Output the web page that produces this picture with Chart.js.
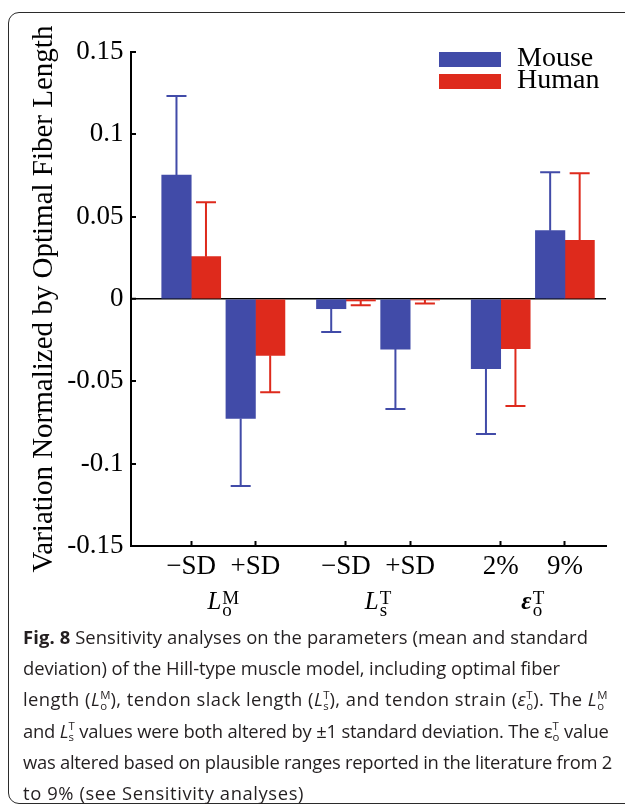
<!DOCTYPE html>
<html>
<head>
<meta charset="utf-8">
<script src="https://cdn.jsdelivr.net/npm/chart.js@4.4.1/dist/chart.umd.min.js"></script>
<style>
  html, body { margin: 0; padding: 0; background: #fff; }
  body { width: 625px; height: 807px; position: relative; overflow: hidden; }
  #wrap { position: absolute; left: 0; top: 0; width: 625px; height: 625px; }
  #frame { position: absolute; left: 8px; top: 12px; width: 700px; height: 790px;
           border: 1.5px solid #2b2b2b; border-radius: 11px; pointer-events: none; }
  #caption { position: absolute; left: 23px; top: 621px; font-family: "Open Sans", sans-serif;
             font-size: 18.4px; line-height: 31.2px; color: #231f20; }
  #caption div { white-space: nowrap; display: table; }
  .ss { display: inline-block; vertical-align: -0.32em; line-height: 0.95; font-size: 0.62em; text-align: left; letter-spacing: 0; }
  .ss span { display: block; }
  i { font-style: italic; }
</style>
</head>
<body>
<div id="wrap"><canvas id="c" width="625" height="625"></canvas></div>
<div id="frame"></div>
<div id="caption">
  <div data-w="565"><b>Fig. 8</b> Sensitivity analyses on the parameters (mean and standard</div>
  <div data-w="537">deviation) of the Hill-type muscle model, including optimal fiber</div>
  <div data-w="588">length (<i>L</i><span class="ss"><span>M</span><span>o</span></span>), tendon slack length (<i>L</i><span class="ss"><span>T</span><span>s</span></span>), and tendon strain (<i>ε</i><span class="ss"><span>T</span><span>o</span></span>). The <i>L</i><span class="ss"><span>M</span><span>o</span></span></div>
  <div data-w="585">and <i>L</i><span class="ss"><span>T</span><span>s</span></span> values were both altered by ±1 standard deviation. The ε<span class="ss"><span>T</span><span>o</span></span> value</div>
  <div data-w="589">was altered based on plausible ranges reported in the literature from 2</div>
  <div data-w="281">to 9% (see Sensitivity analyses)</div>
</div>
<script>
// ---- data ----
const levelLabels = ['\u2212SD', '+SD', '\u2212SD', '+SD', '2%', '9%'];
const groupMain = ['L', 'L', '\u03B5'];
const groupSup  = ['M', 'T', 'T'];
const groupSub  = ['o', 's', 'o'];
const mouseValues = [0.0752, -0.0725, -0.0059, -0.0304, -0.0423, 0.0415];
const mouseSD     = [0.0481,  0.0411,  0.0141,  0.0364,  0.0397, 0.0354];
const humanValues = [0.0257, -0.0342, -0.0012, -0.0006, -0.0302, 0.0356];
const humanSD     = [0.0330,  0.0225,  0.0026,  0.0022,  0.0348, 0.0407];
const yTickValues = [-0.15, -0.1, -0.05, 0, 0.05, 0.1, 0.15];
const yTickLabels = ['-0.15', '-0.1', '-0.05', '0', '0.05', '0.1', '0.15'];
const seriesNames = ['Mouse', 'Human'];

// fit caption lines to the reference line lengths
document.querySelectorAll('#caption > div').forEach(d => {
  const target = parseFloat(d.dataset.w);
  const n = d.textContent.length;
  const natural = d.getBoundingClientRect().width;
  d.style.letterSpacing = ((target - natural) / n).toFixed(3) + 'px';
});

// ---- layout helpers ----
const GROUP_STEP = 2.41, LEVEL_STEP = 1;
const xPos = i => Math.floor(i / 2) * GROUP_STEP + (i % 2) * LEVEL_STEP;
const BLUE = 'rgb(65,75,168)', RED = 'rgb(222,42,28)';
const SERIF = '"Liberation Serif", "Times New Roman", serif';

const errorBars = {
  id: 'errorBars',
  afterDatasetsDraw(chart) {
    const ctx = chart.ctx, ys = chart.scales.y;
    chart.data.datasets.forEach((ds, di) => {
      const meta = chart.getDatasetMeta(di);
      meta.data.forEach((bar, i) => {
        const v = ds.values[i], sd = ds.sd[i];
        const tip = v >= 0 ? v + sd : v - sd;
        const y0 = ys.getPixelForValue(v), y1 = ys.getPixelForValue(tip);
        ctx.save();
        ctx.strokeStyle = ds.backgroundColor;
        ctx.lineWidth = 2;
        ctx.beginPath();
        ctx.moveTo(bar.x, y0); ctx.lineTo(bar.x, y1);
        ctx.moveTo(bar.x - 10, y1); ctx.lineTo(bar.x + 10, y1);
        ctx.stroke();
        ctx.restore();
      });
    });
  }
};

const legendBox = {
  id: 'legendBox',
  afterDraw(chart) {
    const ctx = chart.ctx;
    ctx.save();
    chart.data.datasets.forEach((ds, i) => {
      const top = 52 + i * 22;
      ctx.fillStyle = ds.backgroundColor;
      ctx.fillRect(439, top, 62, 15);
      ctx.fillStyle = '#000';
      ctx.font = '28px ' + SERIF;
      ctx.textBaseline = 'alphabetic';
      ctx.textAlign = 'left';
      ctx.fillText(ds.label, 517, top + 14);
    });
    ctx.restore();
  }
};

const groupLabels = {
  id: 'groupLabels',
  afterDraw(chart) {
    const ctx = chart.ctx, xs = chart.scales.x;
    ctx.save();
    ctx.fillStyle = '#000';
    ctx.textBaseline = 'alphabetic';
    ctx.textAlign = 'left';
    groupMain.forEach((m, g) => {
      const cx = (xs.getPixelForValue(xPos(2 * g)) + xs.getPixelForValue(xPos(2 * g + 1))) / 2;
      const mainFont = (g === 2 ? 'italic bold 25px ' : 'italic 25px ') + SERIF;
      ctx.font = mainFont;
      const mw = ctx.measureText(m).width;
      ctx.font = '19px ' + SERIF;
      const sw = Math.max(ctx.measureText(groupSup[g]).width, ctx.measureText(groupSub[g]).width);
      const total = mw + 1 + sw;
      const x0 = cx - total / 2;
      ctx.font = mainFont;
      ctx.fillText(m, x0, 609);
      ctx.font = '19px ' + SERIF;
      ctx.fillText(groupSup[g], x0 + mw + 1, 604);
      ctx.fillText(groupSub[g], x0 + mw + 1, 616);
    });
    ctx.restore();
  }
};

const makeDs = (label, vals, sd, color) => ({
  label, values: vals, sd,
  data: vals.map((v, i) => ({ x: xPos(i), y: v })),
  backgroundColor: color,
  borderWidth: 0,
  barThickness: 29.5
});

new Chart(document.getElementById('c'), {
  type: 'bar',
  data: {
    datasets: [
      makeDs(seriesNames[0], mouseValues, mouseSD, BLUE),
      makeDs(seriesNames[1], humanValues, humanSD, RED)
    ]
  },
  plugins: [errorBars, legendBox, groupLabels],
  options: {
    responsive: false,
    animation: false,
    layout: { padding: { left: 0, top: 52, right: 19, bottom: 39 } },
    plugins: { legend: { display: false }, tooltip: { enabled: false } },
    scales: {
      x: {
        type: 'linear',
        offset: false,
        min: -0.938, max: 6.46,
        afterBuildTicks: s => { s.ticks = levelLabels.map((_, i) => ({ value: xPos(i) })); },
        afterFit: s => { s.height = 40; },
        grid: { offset: false, drawOnChartArea: false, drawTicks: true, tickLength: -5, tickColor: '#000', tickWidth: 2 },
        border: { display: true, color: '#000', width: 2 },
        ticks: {
          autoSkip: false, maxRotation: 0, padding: 10, color: '#000',
          font: { family: SERIF, size: 27 },
          callback: (v, i) => levelLabels[i]
        }
      },
      y: {
        min: -0.15, max: 0.15,
        afterBuildTicks: s => { s.ticks = yTickValues.map(v => ({ value: v })); },
        afterFit: s => { s.width = 131; },
        grid: {
          drawOnChartArea: true, drawTicks: true, tickLength: -5, tickColor: '#000', tickWidth: 2,
          color: c => (c.tick && c.tick.value === 0) ? '#000' : 'rgba(0,0,0,0)',
          lineWidth: c => (c.tick && c.tick.value === 0) ? 1.5 : 0
        },
        border: { display: true, color: '#000', width: 2 },
        ticks: {
          padding: 12.5, color: '#000',
          font: { family: SERIF, size: 27 },
          callback: (v, i) => yTickLabels[i]
        },
        title: {
          display: true,
          text: 'Variation Normalized by Optimal Fiber Length',
          color: '#000',
          font: { family: SERIF, size: 29 },
          padding: { top: 27, bottom: 0 }
        }
      }
    }
  }
});
</script>
</body>
</html>
